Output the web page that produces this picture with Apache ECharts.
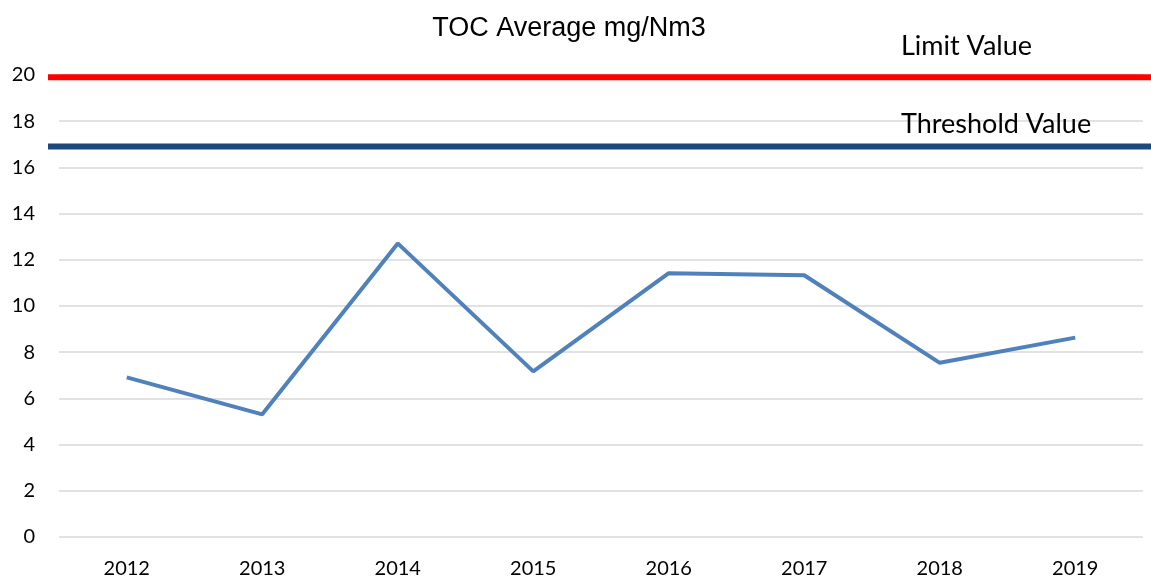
<!DOCTYPE html>
<html>
<head>
  <meta charset="utf-8" />
  <title>TOC Average mg/Nm3</title>
  <script src="https://cdn.jsdelivr.net/npm/echarts@6/dist/echarts.min.js"></script>
</head>
<body style="margin:0;">
  <div id="toc" style="width:1151px;height:579px;"></div>
  <script type="text/javascript">

    // Inline data
    let years = ['2012', '2013', '2014', '2015', '2016', '2017', '2018', '2019'];
    let tocAverage = [6.91, 5.31, 12.71, 7.17, 11.42, 11.33, 7.54, 8.63];
    let limitValue = 19.9;
    let thresholdValue = 16.9;
    let yTicks = [0, 2, 4, 6, 8, 10, 12, 14, 16, 18, 20];

    var chartToc = echarts.init(document.getElementById('toc'));

    var labelFont = 'Lato, "Open Sans", sans-serif';

    var optionToc = {
      animation: false,
      backgroundColor: '#ffffff',
      title: [
        {
          text: 'TOC Average mg/Nm3',
          left: 564,
          top: 10,
          textAlign: 'center',
          textStyle: { fontFamily: '"Liberation Sans", Arial, sans-serif', fontSize: 27, fontWeight: 'normal', color: '#000000' }
        },
        {
          text: 'Limit Value',
          left: 896,
          top: 28,
          textStyle: { fontFamily: labelFont, fontSize: 27, fontWeight: 'normal', color: '#000000' }
        },
        {
          text: 'Threshold Value',
          left: 896,
          top: 106,
          textStyle: { fontFamily: labelFont, fontSize: 27, fontWeight: 'normal', color: '#000000' }
        }
      ],
      grid: [
        { left: 59, right: 8, top: 75, bottom: 42 },
        // wider grid so the reference lines run past the plot area, as in the original
        { left: 48, right: 0, top: 75, bottom: 42 }
      ],
      xAxis: [
        {
          type: 'category',
          data: years,
          boundaryGap: true,
          axisLine: { show: false },
          axisTick: { show: false },
          axisLabel: { fontFamily: labelFont, fontSize: 20, color: '#000000', margin: 22 }
        },
        {
          gridIndex: 1,
          type: 'value',
          min: 0,
          max: 1,
          show: false
        }
      ],
      yAxis: [
        {
          type: 'value',
          min: yTicks[0],
          max: yTicks[yTicks.length - 1],
          interval: 2,
          axisLine: { show: false },
          axisTick: { show: false },
          axisLabel: { fontFamily: labelFont, fontSize: 20, color: '#000000', margin: 24 },
          splitLine: { lineStyle: { color: '#d9d9d9', width: 1.5 } }
        },
        {
          gridIndex: 1,
          type: 'value',
          min: yTicks[0],
          max: yTicks[yTicks.length - 1],
          show: false
        }
      ],
      series: [
        {
          name: 'TOC Average',
          type: 'line',
          data: tocAverage,
          symbol: 'none',
          lineStyle: { color: '#4f81bd', width: 4 },
          z: 3
        },
        {
          name: 'Limit Value',
          type: 'line',
          xAxisIndex: 1,
          yAxisIndex: 1,
          data: [[0, limitValue], [1, limitValue]],
          symbol: 'none',
          lineStyle: { color: '#ff0000', width: 6 },
          z: 4
        },
        {
          name: 'Threshold Value',
          type: 'line',
          xAxisIndex: 1,
          yAxisIndex: 1,
          data: [[0, thresholdValue], [1, thresholdValue]],
          symbol: 'none',
          lineStyle: { color: '#1f497d', width: 6 },
          z: 4
        }
      ]
    };

    chartToc.setOption(optionToc);
  </script>
</body>
</html>
